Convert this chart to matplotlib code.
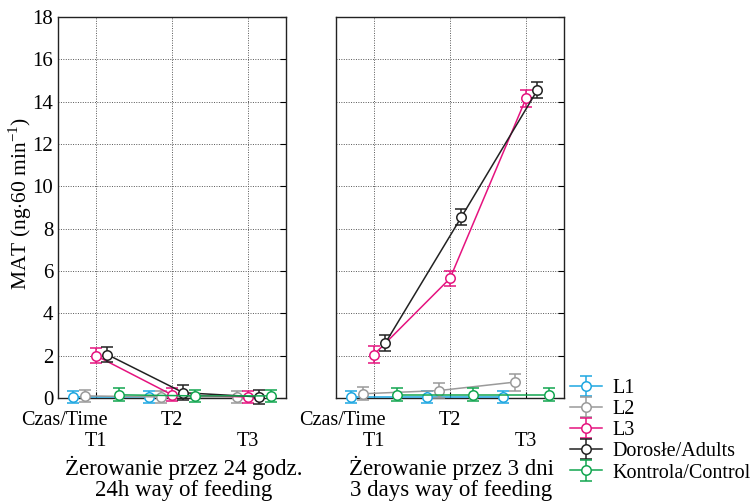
import numpy as np
import matplotlib
matplotlib.use("Agg")
import matplotlib.pyplot as plt

plt.rcParams['font.family'] = ['Liberation Serif', 'DejaVu Serif']
plt.rcParams['mathtext.fontset'] = 'custom'
plt.rcParams['mathtext.rm'] = 'Liberation Serif'

categories = ["T1", "T2", "T3"]
series = ["L1", "L2", "L3", "Dorosłe/Adults", "Kontrola/Control"]
colors = ["#1ea7e1", "#9a9a9a", "#e5137f", "#222222", "#12a650"]

# Left panel: 24h way of feeding
left_vals = {
    "L1": [0.05, 0.05, np.nan],
    "L2": [0.10, 0.05, 0.05],
    "L3": [2.00, 0.15, 0.05],
    "Dorosłe/Adults": [2.05, 0.25, 0.05],
    "Kontrola/Control": [0.15, 0.10, 0.10],
}
left_err = {
    "L1": [0.30, 0.30, np.nan],
    "L2": [0.30, 0.30, 0.30],
    "L3": [0.35, 0.30, 0.30],
    "Dorosłe/Adults": [0.35, 0.35, 0.35],
    "Kontrola/Control": [0.30, 0.30, 0.30],
}
# Right panel: 3 days way of feeding
right_vals = {
    "L1": [0.05, 0.05, 0.05],
    "L2": [0.20, 0.35, 0.75],
    "L3": [2.05, 5.65, 14.15],
    "Dorosłe/Adults": [2.60, 8.55, 14.55],
    "Kontrola/Control": [0.15, 0.15, 0.15],
}
right_err = {
    "L1": [0.30, 0.30, 0.30],
    "L2": [0.30, 0.35, 0.40],
    "L3": [0.40, 0.35, 0.40],
    "Dorosłe/Adults": [0.40, 0.40, 0.40],
    "Kontrola/Control": [0.30, 0.30, 0.30],
}
yticks = list(range(0, 19, 2))
captions = ["Żerowanie przez 24 godz.\n24h way of feeding",
            "Żerowanie przez 3 dni\n3 days way of feeding"]

W, H = 755, 504
fig = plt.figure(figsize=(W / 100, H / 100), dpi=100)
FS = 14.5

def fx(px):
    return px / W

def fy(py):
    return 1 - py / H

ax_l = fig.add_axes([fx(58), fy(398), fx(228), 381 / H])
ax_r = fig.add_axes([fx(336), fy(398), fx(228), 381 / H])

offsets = [-0.3, -0.15, 0.0, 0.15, 0.3]
xpos = np.arange(1, len(categories) + 1)

handles = []
for ax, vals, errs, cap, capx in [(ax_l, left_vals, left_err, captions[0], 2.15),
                                  (ax_r, right_vals, right_err, captions[1], 2.02)]:
    for i, (s, c) in enumerate(zip(series, colors)):
        h = ax.errorbar(xpos + offsets[i], vals[s], yerr=errs[s], color=c,
                        marker='o', markersize=6.8, markerfacecolor='white',
                        markeredgecolor=c, markeredgewidth=1.1, lw=1.1,
                        elinewidth=1.1, capsize=4, capthick=1.1,
                        clip_on=False, label=s, zorder=3 + i)
        for art in h.get_children():
            art.set_clip_on(False)
        if ax is ax_l:
            handles.append(h)
    ax.set_xlim(0.5, 3.5)
    ax.set_ylim(0, 18)
    ax.set_yticks(yticks)
    ax.set_xticks(xpos)
    ax.set_xticklabels([])
    ax.grid(True, color='#555555', linestyle=(0, (1, 1.5)), linewidth=0.7)
    ax.set_axisbelow(True)
    ax.tick_params(axis='both', direction='in', length=4, width=0.8,
                   left=False, right=True, bottom=True, top=False,
                   labelsize=15)
    for sp in ax.spines.values():
        sp.set_linewidth(1.0)
        sp.set_color('#222222')
    tr = ax.get_xaxis_transform()
    ax.text(1.15, -0.034, "Czas/Time", transform=tr, ha='right', va='top',
            fontsize=FS)
    ax.text(2, -0.034, categories[1], transform=tr, ha='center', va='top',
            fontsize=FS)
    ax.text(1, -0.09, categories[0], transform=tr, ha='center', va='top',
            fontsize=FS)
    ax.text(3, -0.09, categories[2], transform=tr, ha='center', va='top',
            fontsize=FS)
    ax.text(capx, -0.153, cap, transform=tr, ha='center', va='top',
            fontsize=16.5, linespacing=0.95)

ax_r.tick_params(labelleft=False)
ax_l.set_yticklabels([str(t) for t in yticks])
ax_l.set_ylabel(r"MAT (ng$\cdot$60 min$^{\mathregular{-1}}$)", fontsize=15.5)
ax_l.yaxis.set_label_coords(-0.105, 0.51)

fig.legend(handles=handles, labels=series, loc='upper left',
           bbox_to_anchor=(fx(570), fy(379)), frameon=False, fontsize=FS,
           handlelength=1.6, handletextpad=0.5, labelspacing=0.1,
           borderaxespad=0, borderpad=0)

fig.savefig("out.png", dpi=100)
